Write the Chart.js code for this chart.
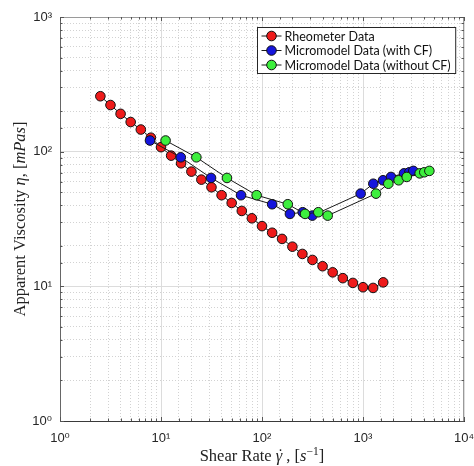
<!DOCTYPE html>
<html>
<head>
<meta charset="utf-8">
<script src="https://cdn.jsdelivr.net/npm/chart.js@4.4.0/dist/chart.umd.min.js"></script>
<style>
  html, body { margin: 0; padding: 0; background: #fff; }
</style>
</head>
<body>
<canvas id="grafica" width="474" height="466"></canvas>
<script>
// datos
const nombresSeries = ['Rheometer Data', 'Micromodel Data (with CF)', 'Micromodel Data (without CF)']
const coloresSeries = ['#ee1b1b', '#1515dd', '#3def3d']

const reometroX = [2.51, 3.16, 3.98, 5.01, 6.31, 7.94, 10.0, 12.6, 15.8, 20.0, 25.1, 31.6, 39.8, 50.1, 63.1,
                   79.4, 100, 126, 158, 200, 251, 316, 398, 501, 631, 794, 1000, 1259, 1585]
const reometroY = [258, 222, 191, 166, 146, 127, 108, 93.4, 82, 71.1, 62, 54.4, 47.5, 41.6, 36.3,
                   32, 28, 25, 22.5, 19.7, 17.4, 15.7, 14.1, 12.7, 11.5, 10.6, 9.85, 9.73, 10.7]

const conCfX = [7.78, 15.7, 31.3, 62, 126, 189, 253, 315, 948, 1265, 1578, 1893, 2545, 2877, 3150]
const conCfY = [121, 90.8, 63.8, 47.5, 40.7, 34.5, 35.5, 33.5, 48.8, 57.8, 61.3, 64.9, 69, 70.3, 72]

const sinCfX = [11.1, 22.4, 45, 88.5, 180, 267, 361, 447, 1345, 1782, 2255, 2710, 3640, 4045, 4540]
const sinCfY = [121, 90.8, 63.8, 47.5, 40.7, 34.5, 35.5, 33.5, 48.8, 57.8, 61.3, 64.9, 69, 70.3, 72]

const etiquetasX = ['10⁰', '10¹', '10²', '10³', '10⁴']
const etiquetasY = ['10⁰', '10¹', '10²', '10³']

// titulos por tramos: [texto, cursiva, superindice, encima del tramo anterior]
const tituloX = [['Shear Rate ', 0, 0, 0], ['\u03B3', 1, 0, 0], ['\u02D9', 0, 0, 1], [' , [', 0, 0, 0],
                 ['s', 1, 0, 0], ['\u22121', 0, 1, 0], [']', 0, 0, 0]]
const tituloY = [['Apparent Viscosity ', 0, 0, 0], ['\u03B7', 1, 0, 0], [', [', 0, 0, 0], ['mPas', 1, 0, 0], [']', 0, 0, 0]]

const esDecada = (v) => Math.abs(Math.log10(v) - Math.round(Math.log10(v))) < 1e-6

const etiquetaTick = (etiquetas) => (valor) => {
   if (!esDecada(valor)) return ''
   return etiquetas[Math.round(Math.log10(valor))]
}

const generarPuntos = (xs, ys) => xs.map((x, i) => ({ x: x, y: ys[i] }))

const generarDataset = (i, xs, ys) => ({
   label: nombresSeries[i],
   data: generarPuntos(xs, ys),
   backgroundColor: coloresSeries[i],
   borderColor: '#1a1a1a',
   borderWidth: 1,
   pointBorderColor: '#111',
   pointBorderWidth: 1,
   pointRadius: 4.8,
   pointHoverRadius: 4.8,
   showLine: true,
   tension: 0,
   order: 3 - i
})

const colorGrid = (ctx) => {
   if (!ctx.tick) return '#dddddd'
   return esDecada(ctx.tick.value) ? '#dcdcdc' : '#d2d2d2'
}
const rayaGrid = (ctx) => {
   if (!ctx.tick) return []
   return esDecada(ctx.tick.value) ? [] : [1, 2]
}

const fuenteTicks = { family: "'Liberation Sans', 'DejaVu Sans', sans-serif", size: 13 }
const tamTitulo = 16.5

const fuenteTramo = (cursiva, sup) =>
   (cursiva ? 'italic ' : '') + (sup ? tamTitulo * 0.7 : tamTitulo) + "px 'Liberation Serif', 'DejaVu Serif', serif"

const dibujarTitulo = (ctx, tramos) => {
   const anchos = tramos.map(([t, c, s, e]) => { ctx.font = fuenteTramo(c, s); return e ? 0 : ctx.measureText(t).width })
   let x = -anchos.reduce((a, b) => a + b, 0) / 2
   let anterior = 0
   tramos.forEach(([t, c, s, e], i) => {
      ctx.font = fuenteTramo(c, s)
      if (e) {
         const w = ctx.measureText(t).width
         ctx.fillText(t, x - anterior / 2 - w / 2 + 1.5, -1)
         return
      }
      ctx.fillText(t, x, s ? -tamTitulo * 0.38 : 0)
      anterior = anchos[i]
      x += anchos[i]
   })
}

// caja, marcas interiores, titulos y leyenda al estilo matlab
const cajaYLeyenda = {
   id: 'cajaYLeyenda',
   afterDatasetsDraw(chart) {
      const { ctx, chartArea: a, scales } = chart
      ctx.save()
      ctx.strokeStyle = '#9a9a9a'
      ctx.lineWidth = 1
      ctx.beginPath()
      ctx.moveTo(a.left, a.top + 0.5); ctx.lineTo(a.right, a.top + 0.5)
      ctx.moveTo(a.right - 0.5, a.top); ctx.lineTo(a.right - 0.5, a.bottom)
      ctx.stroke()

      ctx.strokeStyle = '#555'
      ctx.beginPath()
      scales.x.ticks.forEach(t => {
         const px = Math.round(scales.x.getPixelForValue(t.value)) + 0.5
         const largo = esDecada(t.value) ? 4 : 2.5
         ctx.moveTo(px, a.bottom); ctx.lineTo(px, a.bottom - largo)
         ctx.moveTo(px, a.top); ctx.lineTo(px, a.top + largo)
      })
      scales.y.ticks.forEach(t => {
         const py = Math.round(scales.y.getPixelForValue(t.value)) + 0.5
         const largo = esDecada(t.value) ? 4 : 2.5
         ctx.moveTo(a.left, py); ctx.lineTo(a.left + largo, py)
         ctx.moveTo(a.right, py); ctx.lineTo(a.right - largo, py)
      })
      ctx.stroke()

      // titulos de ejes
      ctx.fillStyle = '#222'
      ctx.textBaseline = 'alphabetic'
      ctx.save()
      ctx.translate((a.left + a.right) / 2, 461)
      dibujarTitulo(ctx, tituloX)
      ctx.restore()
      ctx.save()
      ctx.translate(25, (a.top + a.bottom) / 2)
      ctx.rotate(-Math.PI / 2)
      dibujarTitulo(ctx, tituloY)
      ctx.restore()

      // leyenda
      ctx.font = "12.5px Lato, 'Liberation Sans', sans-serif"
      const anchoTexto = Math.max(...nombresSeries.map(n => ctx.measureText(n).width))
      const ancho = 4 + 20 + 3 + anchoTexto + 5
      const alto = 46
      const x0 = Math.round(a.right - 9 - ancho) + 0.5
      const y0 = a.top + 10.5
      ctx.fillStyle = '#fff'
      ctx.fillRect(x0, y0, ancho, alto)
      ctx.strokeStyle = '#262626'
      ctx.strokeRect(x0, y0, ancho, alto)
      nombresSeries.forEach((nombre, i) => {
         const yc = y0 + 8.5 + i * 14.5
         ctx.strokeStyle = '#1a1a1a'
         ctx.beginPath()
         ctx.moveTo(x0 + 4, yc); ctx.lineTo(x0 + 24, yc)
         ctx.stroke()
         ctx.beginPath()
         ctx.arc(x0 + 14, yc, 4.8, 0, Math.PI * 2)
         ctx.fillStyle = coloresSeries[i]
         ctx.fill()
         ctx.strokeStyle = '#111'
         ctx.stroke()
         ctx.fillStyle = '#111'
         ctx.textBaseline = 'middle'
         ctx.fillText(nombre, x0 + 27, yc + 0.5)
      })
      ctx.restore()
   }
}

const ctx = document.getElementById('grafica').getContext('2d')

new Chart(ctx, {
   type: 'scatter',
   data: {
      datasets: [
         generarDataset(0, reometroX, reometroY),
         generarDataset(1, conCfX, conCfY),
         generarDataset(2, sinCfX, sinCfY)
      ]
   },
   options: {
      responsive: false,
      animation: false,
      layout: { padding: { left: 0, right: 10, top: 17, bottom: 0 } },
      plugins: {
         legend: { display: false },
         tooltip: { enabled: false }
      },
      scales: {
         x: {
            type: 'logarithmic',
            min: 1,
            max: 10000,
            afterFit: (escala) => { escala.height = 45; escala.paddingLeft = 0; escala.paddingRight = 0 },
            ticks: {
               autoSkip: false,
               maxRotation: 0,
               padding: 10,
               color: '#262626',
               font: fuenteTicks,
               callback: etiquetaTick(etiquetasX)
            },
            grid: { color: colorGrid, lineWidth: 1, drawTicks: false },
            border: { display: true, color: '#3a3a3a', width: 1, dash: rayaGrid }
         },
         y: {
            type: 'logarithmic',
            min: 1,
            max: 1000,
            afterFit: (escala) => { escala.width = 60; escala.paddingTop = 0; escala.paddingBottom = 0 },
            ticks: {
               autoSkip: false,
               padding: 8,
               color: '#262626',
               font: fuenteTicks,
               callback: etiquetaTick(etiquetasY)
            },
            grid: { color: colorGrid, lineWidth: 1, drawTicks: false },
            border: { display: true, color: '#666', width: 1, dash: rayaGrid }
         }
      }
   },
   plugins: [cajaYLeyenda]
})
</script>
</body>
</html>
